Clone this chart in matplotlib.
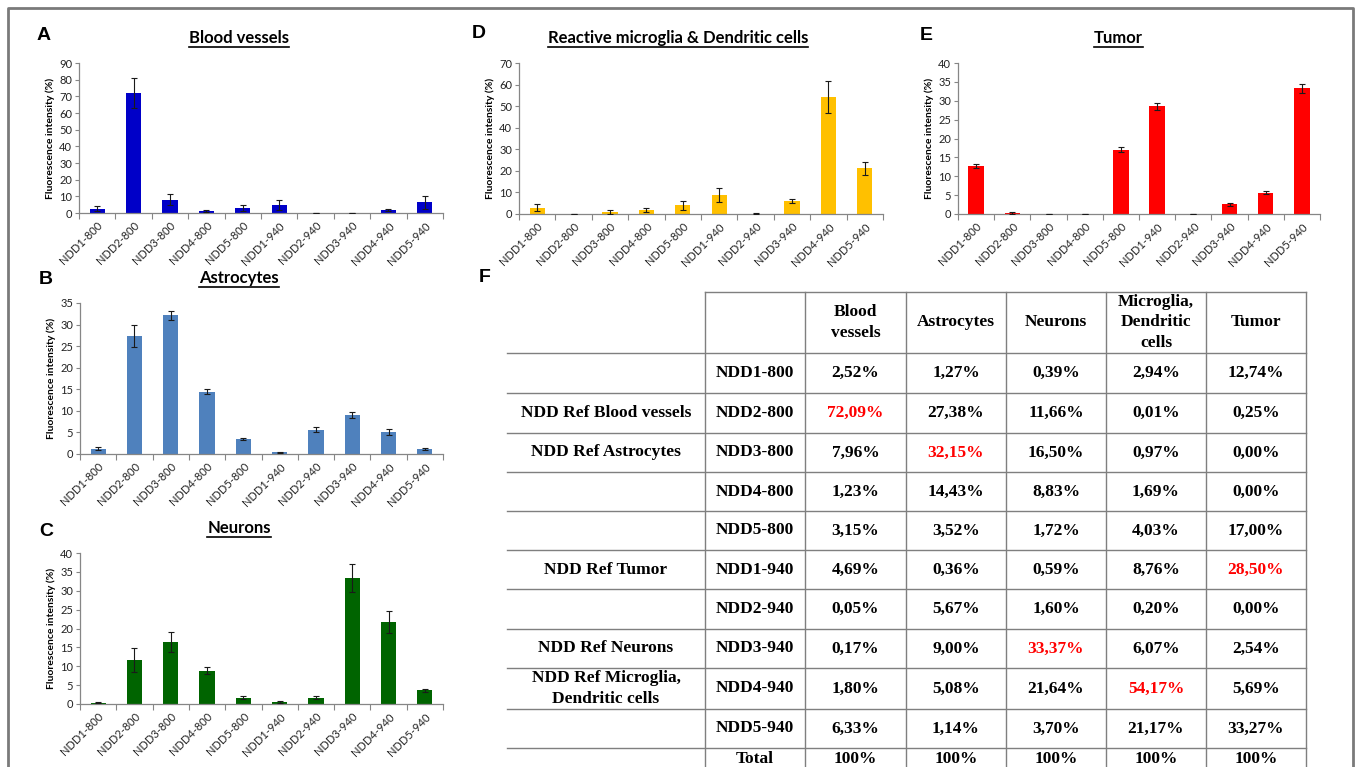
import numpy as np
import matplotlib.pyplot as plt

# ---------------- data ----------------
samples = ["NDD1-800", "NDD2-800", "NDD3-800", "NDD4-800", "NDD5-800",
           "NDD1-940", "NDD2-940", "NDD3-940", "NDD4-940", "NDD5-940"]

blood = [2.52, 72.09, 7.96, 1.23, 3.15, 4.69, 0.05, 0.17, 1.80, 6.33]
blood_err = [1.6, 9.0, 3.3, 0.8, 1.8, 3.0, 0.05, 0.1, 0.8, 3.7]

astro = [1.27, 27.38, 32.15, 14.43, 3.52, 0.36, 5.67, 9.00, 5.08, 1.14]
astro_err = [0.3, 2.6, 1.1, 0.6, 0.3, 0.1, 0.6, 0.7, 0.75, 0.15]

neurons = [0.39, 11.66, 16.50, 8.83, 1.72, 0.59, 1.60, 33.37, 21.64, 3.70]
neurons_err = [0.15, 3.1, 2.7, 1.0, 0.5, 0.2, 0.4, 3.8, 2.9, 0.4]

microglia = [2.94, 0.01, 0.97, 1.69, 4.03, 8.76, 0.20, 6.07, 54.17, 21.17]
microglia_err = [1.5, 0.0, 1.0, 0.9, 2.0, 3.2, 0.2, 1.1, 7.3, 3.1]

tumor = [12.74, 0.25, 0.00, 0.00, 17.00, 28.50, 0.00, 2.54, 5.69, 33.27]
tumor_err = [0.55, 0.15, 0.0, 0.0, 0.7, 0.9, 0.0, 0.3, 0.45, 1.1]

# table F
table_headers = ["Blood\nvessels", "Astrocytes", "Neurons",
                 "Microglia,\nDendritic\ncells", "Tumor"]
ref_labels = ["", "NDD Ref Blood vessels", "NDD Ref Astrocytes", "", "",
              "NDD Ref Tumor", "", "NDD Ref Neurons",
              "NDD Ref Microglia,\nDendritic cells", ""]
# row index of the reference sample for each column (shown in red)
ref_rows = [1, 2, 7, 8, 5]

W, H = 1357, 767
fig = plt.figure(figsize=(W / 100, H / 100), dpi=100)

# overlay in pixel coordinates for frame, labels, table
over = fig.add_axes([0, 0, 1, 1])
over.set_xlim(0, W)
over.set_ylim(H, 0)
over.axis("off")
over.patch.set_alpha(0)

over.plot([8, 8, 1353, 1353], [H + 5, 8, 8, H + 5], color="#7a7a7a", lw=2)

sans = "Lato"
gray = "#868686"


def px_axes(x0, y0, x1, y1):
    return fig.add_axes([x0 / W, 1 - y1 / H, (x1 - x0) / W, (y1 - y0) / H])


def bar_panel(box, values, errs, color, ymax, ystep):
    ax = px_axes(*box)
    x = np.arange(len(samples))
    ax.bar(x, values, width=0.42, color=color, zorder=2)
    ax.errorbar(x, values, yerr=errs, fmt="none", ecolor="#1a1a1a",
                elinewidth=0.8, capsize=2, capthick=0.8, zorder=3)
    ax.set_xlim(-0.5, len(samples) - 0.5)
    ax.set_ylim(0, ymax)
    ax.set_yticks(np.arange(0, ymax + 1, ystep))
    ax.set_xticks(x)
    ax.set_xticklabels(samples, rotation=45, ha="right", rotation_mode="anchor",
                       fontsize=8, family=sans, color="#222222")
    ax.set_xticks(np.arange(-0.5, len(samples)), minor=True)
    ax.tick_params(axis="x", which="major", length=0, pad=5)
    ax.tick_params(axis="x", which="minor", length=4, color=gray, width=0.8)
    ax.tick_params(axis="y", length=3, color=gray, width=0.8, pad=2,
                   labelsize=8, labelcolor="#222222")
    for t in ax.get_yticklabels():
        t.set_family(sans)
    for s in ["top", "right"]:
        ax.spines[s].set_visible(False)
    for s in ["left", "bottom"]:
        ax.spines[s].set_color(gray)
        ax.spines[s].set_linewidth(0.9)
    ax.set_ylabel("Fluorescence intensity (%)", fontsize=7.5, family=sans,
                  fontweight="bold", labelpad=3)
    return ax


bar_panel((79, 63, 443, 213), blood, blood_err, "#0000C8", 90, 10)
bar_panel((80, 303, 443, 454), astro, astro_err, "#4F81BD", 35, 5)
bar_panel((80, 553, 443, 704), neurons, neurons_err, "#006400", 40, 5)
bar_panel((519, 63, 883, 214), microglia, microglia_err, "#FFC000", 70, 10)
bar_panel((958, 63, 1320, 214), tumor, tumor_err, "#FF0000", 40, 5)

# panel letters
for letter, lx, ly in [("A", 37, 36), ("B", 39, 279), ("C", 39, 531),
                       ("D", 472, 34), ("E", 920, 35), ("F", 479, 278)]:
    over.text(lx, ly, letter, fontsize=14, fontweight="bold",
              family="Liberation Sans", ha="left", va="center")

# panel titles, underlined
titles = [("Blood vessels", 239, 38), ("Astrocytes", 239, 278),
          ("Neurons", 239, 528),
          ("Reactive microglia & Dendritic cells", 678, 38),
          ("Tumor", 1118, 38)]
title_texts = []
for txt, tx, ty in titles:
    t = over.text(tx, ty, txt, fontsize=12, fontweight="bold", family=sans,
                  ha="center", va="center")
    title_texts.append(t)

# ---------------- table F ----------------
tfont = dict(family="Liberation Serif", fontweight="bold", fontsize=12.5)
col_x = [507, 705, 805, 906, 1006, 1106, 1206, 1306]
head_top, head_bot = 292, 353
row_y = [353, 393, 433, 472, 511, 550, 589, 629, 668, 709, 748, 787]
line_c = "#7f7f7f"

over.plot([col_x[1], col_x[-1]], [head_top, head_top], color=line_c, lw=1)
for y in row_y[:-1]:
    over.plot([col_x[0], col_x[-1]], [y, y], color=line_c, lw=1)
for x in col_x[1:]:
    over.plot([x, x], [head_top, H + 5], color=line_c, lw=1)

for j, h in enumerate(table_headers):
    cx = (col_x[j + 2] + col_x[j + 3]) / 2
    over.text(cx, (head_top + head_bot) / 2, h, ha="center", va="center",
              linespacing=1.4, **tfont)

columns = [blood, astro, neurons, microglia, tumor]
for i, name in enumerate(samples):
    cy = (row_y[i] + row_y[i + 1]) / 2
    over.text((col_x[0] + col_x[1]) / 2, cy, ref_labels[i], ha="center",
              va="center", linespacing=1.4, **tfont)
    over.text((col_x[1] + col_x[2]) / 2, cy, name, ha="center", va="center",
              **tfont)
    for j, col in enumerate(columns):
        s = f"{col[i]:.2f}%".replace(".", ",")
        c = "#FF0000" if ref_rows[j] == i else "black"
        over.text((col_x[j + 2] + col_x[j + 3]) / 2, cy, s, ha="center",
                  va="center", color=c, **tfont)

# total row
ty = 759
over.text((col_x[1] + col_x[2]) / 2, ty, "Total", ha="center", va="center",
          **tfont)
for j in range(len(columns)):
    over.text((col_x[j + 2] + col_x[j + 3]) / 2, ty, "100%", ha="center",
              va="center", **tfont)

# underline the titles
fig.canvas.draw()
r = fig.canvas.get_renderer()
for t in title_texts:
    bb = t.get_window_extent(r)
    yb = H - bb.y0 + 1
    over.plot([bb.x0, bb.x1], [yb, yb], color="black", lw=1.2)

fig.savefig("out.png", dpi=100)
